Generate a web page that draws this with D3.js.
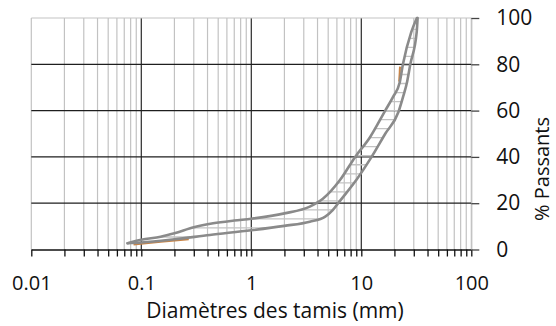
<!DOCTYPE html>
<html>
<head>
<meta charset="utf-8">
<script src="https://cdn.jsdelivr.net/npm/d3@7"></script>
<style>
  body { margin: 0; background: #fff; }
  svg text { font-family: "Open Sans", sans-serif; fill: #111; }
</style>
</head>
<body>
<div class="container"></div>
<script>
var width = 556;
var height = 326;

// fuseau granulometrique : limite fine (haut) et limite grosse (bas)
var upperSize = [0.075, 0.1, 0.15, 0.2, 0.3, 0.45, 0.7, 1, 2, 3.4, 4.5, 6.4, 8.8, 12, 16.5, 19.5, 22.3, 23.9, 28.5, 32];
var upperPass = [2.7, 4.2, 5.5, 7, 9.6, 11.3, 12.5, 13.3, 15.6, 18.5, 22, 30, 40, 48.5, 60, 66, 72, 80, 94, 100];
var lowerSize = [0.075, 0.1, 0.2, 0.42, 1, 2, 3.4, 4.7, 5.5, 6.4, 9, 12.4, 16.5, 21.8, 24, 26.1, 27.9, 31.9, 32.5];
var lowerPass = [2.7, 3, 4.4, 6.3, 8.3, 10.2, 12, 14.2, 17, 21, 30, 40, 50, 59.5, 66, 72.5, 80, 94, 100];

// courbe de l'echantillon (visible seulement par endroits)
var sampleSizeA = [0.085, 0.15, 0.27];
var samplePassA = [2.2, 3.3, 4.4];
var sampleSizeB = [22.1, 22.5];
var samplePassB = [72.5, 79];

var xTickLabels = [0.01, 0.1, 1, 10, 100];
var yTickValues = [0, 20, 40, 60, 80, 100];

var x = d3.scaleLog().domain([0.01, 100]).range([31.3, 471.3]);
var y = d3.scaleLinear().domain([0, 100]).range([249.5, 18]);

var svg = d3.select(".container").append("svg")
    .attr("width", width)
    .attr("height", height);

var minorTicks = x.ticks();

// grille verticale
svg.append("g").selectAll("line").data(minorTicks)
  .enter().append("line")
  .attr("x1", function (d){return x(d);})
  .attr("x2", function (d){return x(d);})
  .attr("y1", y(0))
  .attr("y2", y(100))
  .attr("stroke", function (d){
    var isMajor = Math.abs(Math.log10(d) - Math.round(Math.log10(d))) < 1e-9;
    return (isMajor && d > 0.01 && d < 100) ? "#2a2a2a" : "#c2c2c2";
  })
  .attr("stroke-width", 1.2);

// grille horizontale
svg.append("g").selectAll("line").data(yTickValues.filter(function (d){return d > 0;}))
  .enter().append("line")
  .attr("x1", x(0.01))
  .attr("x2", x(100))
  .attr("y1", function (d){return y(d);})
  .attr("y2", function (d){return y(d);})
  .attr("stroke", function (d){return d == 100 ? "#c4c4c4" : "#1e1e1e";})
  .attr("stroke-width", 1.2);

var upperPts = upperSize.map(function (d, i){return [d, upperPass[i]];});
var lowerPts = lowerSize.map(function (d, i){return [d, lowerPass[i]];});

var line = d3.line()
  .x(function (d){return x(d[0]);})
  .y(function (d){return y(d[1]);})
  .curve(d3.curveMonotoneX);

// zones de decoupe pour les hachures
var defs = svg.append("defs");
defs.append("clipPath").attr("id", "belowUpper")
  .append("path")
  .attr("d", d3.area()
    .x(function (d){return x(d[0]);})
    .y0(y(-5))
    .y1(function (d){return y(d[1]);})
    .curve(d3.curveMonotoneX)(upperPts));
defs.append("clipPath").attr("id", "aboveLower")
  .append("path")
  .attr("d", d3.area()
    .x(function (d){return x(d[0]);})
    .y0(y(105))
    .y1(function (d){return y(d[1]);})
    .curve(d3.curveMonotoneX)(lowerPts));

var hatchLevels = d3.range(1.5, 100, 3.9);
svg.append("g").attr("clip-path", "url(#belowUpper)")
  .append("g").attr("clip-path", "url(#aboveLower)")
  .selectAll("line").data(hatchLevels)
  .enter().append("line")
  .attr("x1", x(0.01))
  .attr("x2", x(100))
  .attr("y1", function (d){return y(d);})
  .attr("y2", function (d){return y(d);})
  .attr("stroke", "#c3c3c3")
  .attr("stroke-width", 1.3);

// echantillon
[[sampleSizeA, samplePassA], [sampleSizeB, samplePassB]].forEach(function (s){
  svg.append("path")
    .datum(s[0].map(function (d, i){return [d, s[1][i]];}))
    .attr("d", line)
    .attr("fill", "none")
    .attr("stroke", "#c98446")
    .attr("stroke-width", 2);
});

// limites du fuseau
[upperPts, lowerPts].forEach(function (pts){
  svg.append("path")
    .datum(pts)
    .attr("d", line)
    .attr("fill", "none")
    .attr("stroke", "#8a8a8a")
    .attr("stroke-width", 2.6)
    .attr("stroke-linejoin", "round")
    .attr("stroke-linecap", "round");
});

// axe des abscisses
var xAxis = d3.axisBottom(x)
  .tickValues(minorTicks)
  .tickSizeInner(7)
  .tickSizeOuter(0)
  .tickPadding(19)
  .tickFormat(function (d){
    return xTickLabels.indexOf(+d.toPrecision(6)) >= 0 ? String(+d.toPrecision(6)) : "";
  });

var gx = svg.append("g")
  .attr("transform", "translate(0," + y(0) + ")")
  .call(xAxis);
gx.select(".domain").attr("stroke", "#111").attr("stroke-width", 1.3);
gx.selectAll(".tick line").attr("stroke", "#111").attr("stroke-width", 1.3);
gx.selectAll("text").style("font-size", "20px").attr("fill", "#111");

// axe des ordonnees (a droite)
var yAxis = d3.axisRight(y)
  .tickValues(yTickValues)
  .tickSizeInner(8)
  .tickSizeOuter(0)
  .tickPadding(17);

var gy = svg.append("g")
  .attr("transform", "translate(" + x(100) + ",0)")
  .call(yAxis);
gy.select(".domain").attr("stroke", "#c2c2c2").attr("stroke-width", 1.2);
gy.selectAll(".tick line").attr("stroke", "#444").attr("stroke-width", 1.3);
gy.selectAll("text").style("font-size", "21px").attr("fill", "#111");

// titres
svg.append("text")
  .attr("x", 275)
  .attr("y", 318)
  .attr("text-anchor", "middle")
  .style("font-size", "21px")
  .text("Diamètres des tamis (mm)");

svg.append("text")
  .attr("transform", "translate(549,169) rotate(-90)")
  .attr("text-anchor", "middle")
  .style("font-size", "20px")
  .text("% Passants");
</script>
</body>
</html>
